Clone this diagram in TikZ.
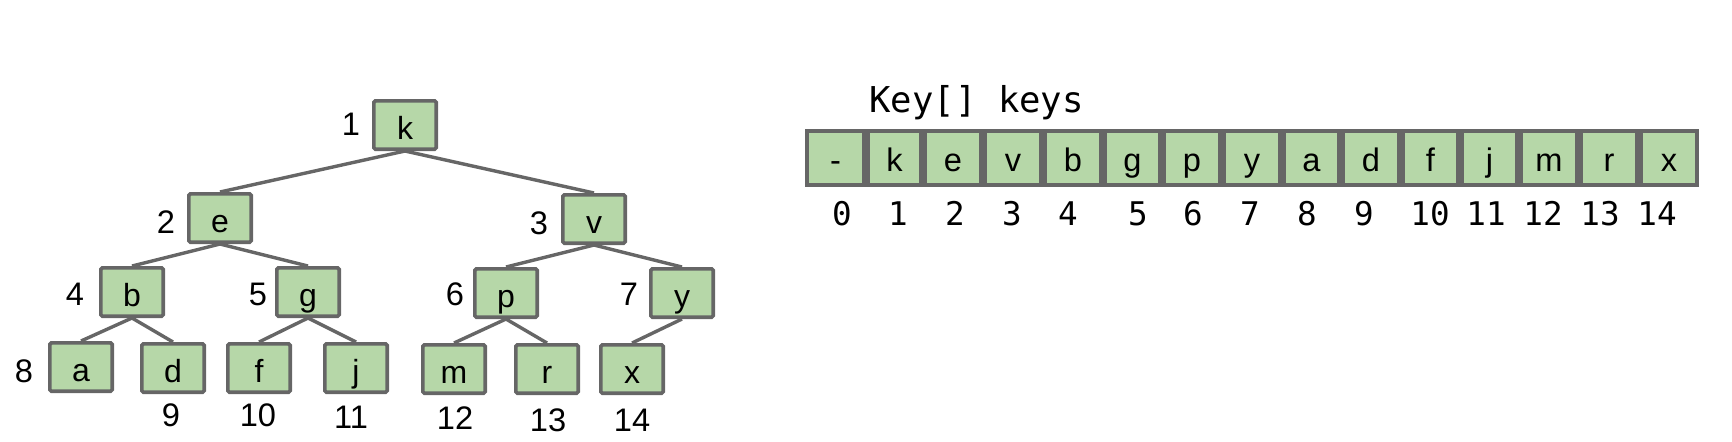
\documentclass[tikz,border=0pt]{standalone}
\usepackage{fontspec}
\setmainfont{Liberation Sans}
\newfontfamily\monofont{DejaVu Sans Mono}
\definecolor{boxgreen}{HTML}{B6D7A8}
\definecolor{boxgray}{HTML}{666666}
\begin{document}
\begin{tikzpicture}[x=0.5pt,y=-0.5pt,
  treebox/.style={draw=boxgray,fill=boxgreen,line width=1.8pt,rounded corners=0.8pt,
    minimum width=31.2pt,minimum height=24.2pt,inner sep=0pt,
    font=\fontsize{16}{19}\selectfont,text height=14pt,text depth=0pt},
  cellbox/.style={draw=boxgray,fill=boxgreen,line width=1.8pt,
    minimum height=27.2pt,inner sep=0pt,
    font=\fontsize{16.3}{19}\selectfont,text height=13.5pt,text depth=0pt},
  numlabel/.style={inner sep=0pt,anchor=base,font=\fontsize{16.3}{19}\selectfont},
  idxlabel/.style={inner sep=0pt,anchor=base,font=\monofont\fontsize{16.3}{19}\selectfont},
  edge/.style={draw=boxgray,line width=1.7pt}]
\useasboundingbox (0,0) rectangle (1732,441);
% tree nodes
\node[treebox] (k) at (405,125) {k};
\node[treebox] (e) at (220,218) {e};
\node[treebox] (v) at (594,219) {v};
\node[treebox] (b) at (132,292) {b};
\node[treebox] (g) at (308,292) {g};
\node[treebox] (p) at (506,293) {p};
\node[treebox] (y) at (682,293) {y};
\node[treebox] (a) at (81,367) {a};
\node[treebox] (d) at (173,368) {d};
\node[treebox] (f) at (259,368) {f};
\node[treebox] (j) at (356,368) {j};
\node[treebox] (m) at (454,369) {m};
\node[treebox] (r) at (547,369) {r};
\node[treebox] (x) at (632,369) {x};
% edges
\draw[edge] (k.south) -- (e.north);
\draw[edge] (k.south) -- (v.north);
\draw[edge] (e.south) -- (b.north);
\draw[edge] (e.south) -- (g.north);
\draw[edge] (v.south) -- (p.north);
\draw[edge] (v.south) -- (y.north);
\draw[edge] (b.south) -- (a.north);
\draw[edge] (b.south) -- (d.north);
\draw[edge] (g.south) -- (f.north);
\draw[edge] (g.south) -- (j.north);
\draw[edge] (p.south) -- (m.north);
\draw[edge] (p.south) -- (r.north);
\draw[edge] (y.south) -- (x.north);
% tree index labels
\node[numlabel] (n1) at (351,135) {1};
\node[numlabel] (n2) at (166,233) {2};
\node[numlabel] (n3) at (539,234) {3};
\node[numlabel] (n4) at (75,305) {4};
\node[numlabel] (n5) at (258,305) {5};
\node[numlabel] (n6) at (455,305) {6};
\node[numlabel] (n7) at (629,305) {7};
\node[numlabel] (n8) at (24,382) {8};
\node[numlabel] (n9) at (171,426) {9};
\node[numlabel] (n10) at (258,426) {10};
\node[numlabel] (n11) at (351,428) {11};
\node[numlabel] (n12) at (455,429) {12};
\node[numlabel] (n13) at (548,431) {13};
\node[numlabel] (n14) at (632,431) {14};
% array
\node[inner sep=0pt,anchor=base west,font=\monofont\fontsize{17.8}{20}\selectfont] (hdr) at (869,112) {Key[] keys};
\foreach \n/\l/\r/\t in {0/805/866/-,1/866/923/k,2/923/983/e,3/983/1043/v,4/1043/1103/b,5/1103/1162/g,6/1162/1222/p,7/1222/1282/y,8/1282/1341/a,9/1341/1401/d,10/1401/1460/f,11/1460/1519/j,12/1519/1579/m,13/1579/1639/r,14/1639/1699/x}
  \node[cellbox,minimum width={(\r-\l)*0.5pt-1.8pt}] (cell\n) at ({(\l+\r)/2},158) {\t};
\foreach \n/\xx in {0/842,1/898,2/955,3/1012,4/1068,5/1138,6/1193,7/1250,8/1307,9/1364,10/1430,11/1486,12/1543,13/1600,14/1657}
  \node[idxlabel] (idx\n) at (\xx,225) {\n};
\end{tikzpicture}
\end{document}
